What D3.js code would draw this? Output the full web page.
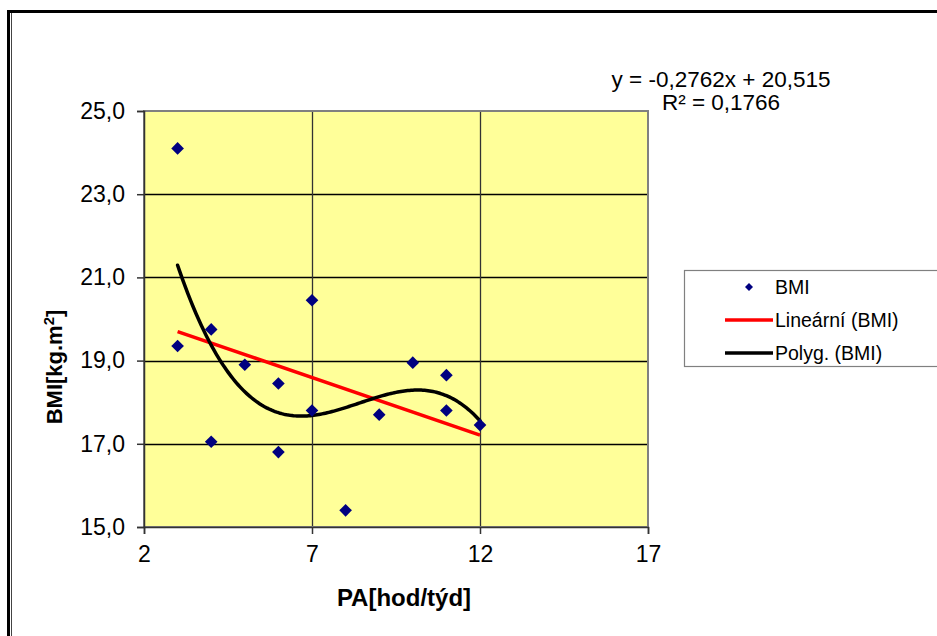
<!DOCTYPE html>
<html>
<head>
<meta charset="utf-8">
<script src="https://cdn.jsdelivr.net/npm/d3@7"></script>
<style>
  body { margin: 0; background: #fff; }
  svg { display: block; font-family: "Liberation Sans", Arial, sans-serif; }
</style>
</head>
<body>
<div id="chart"></div>
<script>
// PA [hod/týd] vs BMI
const paHours = [3, 3, 4, 4, 5, 6, 6, 7, 7, 8, 9, 10, 11, 11, 12];
const bmiValues = [24.1, 19.35, 19.75, 17.05, 18.9, 18.45, 16.8, 20.45, 17.8, 15.4, 17.7, 18.95, 18.65, 17.8, 17.45];
const xTicks = [2, 7, 12, 17];
const yTicks = [15, 17, 19, 21, 23, 25];
const legendLabels = ["BMI", "Lineární (BMI)", "Polyg. (BMI)"];
const equationLines = ["y = -0,2762x + 20,515", "R² = 0,1766"];

const width = 937, height = 636;
const plot = {left: 144, top: 111, right: 648, bottom: 527};

const svg = d3.select("#chart").append("svg")
    .attr("width", width)
    .attr("height", height);

// outer frame
svg.append("rect")
    .attr("x", 8.5).attr("y", 11.5)
    .attr("width", 960).attr("height", 660)
    .attr("fill", "none")
    .attr("stroke", "#000")
    .attr("stroke-width", 3);
svg.append("line")
    .attr("x1", 11.5).attr("x2", 11.5)
    .attr("y1", 13).attr("y2", height)
    .attr("stroke", "#444").attr("stroke-width", 1);

const x = d3.scaleLinear().domain([2, 17]).range([plot.left, plot.right]);
const y = d3.scaleLinear().domain([15, 25]).range([plot.bottom, plot.top]);
const fmt = d => d3.format(".1f")(d).replace(".", ",");

svg.append("rect")
    .attr("x", plot.left).attr("y", plot.top)
    .attr("width", plot.right - plot.left)
    .attr("height", plot.bottom - plot.top)
    .attr("fill", "#ffff99");

// gridlines
svg.append("g").selectAll("line")
    .data(yTicks.slice(1, -1))
    .enter().append("line")
    .attr("x1", plot.left).attr("x2", plot.right)
    .attr("y1", d => Math.round(y(d)) + 0.5)
    .attr("y2", d => Math.round(y(d)) + 0.5)
    .attr("stroke", "#000").attr("stroke-width", 1.3);
svg.append("g").selectAll("line")
    .data(xTicks.slice(1, -1))
    .enter().append("line")
    .attr("x1", d => Math.round(x(d)) + 0.5)
    .attr("x2", d => Math.round(x(d)) + 0.5)
    .attr("y1", plot.top).attr("y2", plot.bottom)
    .attr("stroke", "#333").attr("stroke-width", 1.3);

svg.append("rect")
    .attr("x", plot.left).attr("y", plot.top)
    .attr("width", plot.right - plot.left)
    .attr("height", plot.bottom - plot.top)
    .attr("fill", "none")
    .attr("stroke", "#808080")
    .attr("stroke-width", 2);

// axes
const yAxis = svg.append("g")
    .attr("transform", "translate(" + plot.left + ",0)")
    .call(d3.axisLeft(y).tickValues(yTicks).tickFormat(fmt).tickSize(7).tickPadding(12));
const xAxis = svg.append("g")
    .attr("transform", "translate(0," + plot.bottom + ")")
    .call(d3.axisBottom(x).tickValues(xTicks).tickSize(7).tickPadding(12));
[yAxis, xAxis].forEach(a => {
    a.select(".domain").attr("stroke", "#333").attr("stroke-width", 1.5);
    a.selectAll(".tick line").attr("stroke", "#333").attr("stroke-width", 1.5);
    a.selectAll("text")
        .attr("fill", "#000")
        .style("font-size", "23px")
        .style("font-family", "'Liberation Sans', Arial, sans-serif");
});

// axis titles
svg.append("text")
    .attr("x", 404).attr("y", 606)
    .attr("text-anchor", "middle")
    .style("font-size", "24px").style("font-weight", "bold")
    .text("PA[hod/týd]");

const yTitle = svg.append("text")
    .attr("transform", "translate(62,367) rotate(-90)")
    .attr("text-anchor", "middle")
    .style("font-size", "22px").style("font-weight", "bold");
yTitle.append("tspan").text("BMI[kg.m");
yTitle.append("tspan").attr("dy", -8).style("font-size", "15px").text("2");
yTitle.append("tspan").attr("dy", 8).text("]");

// trendlines (least squares fits of the data)
function polyFit(xs, ys, order) {
    const n = order + 1;
    const A = [];
    for (let i = 0; i < n; i++) {
        A.push([]);
        for (let j = 0; j < n; j++) A[i].push(d3.sum(xs, v => Math.pow(v, i + j)));
        A[i].push(d3.sum(xs, (v, k) => Math.pow(v, i) * ys[k]));
    }
    for (let c = 0; c < n; c++) {
        let p = c;
        for (let r = c + 1; r < n; r++) if (Math.abs(A[r][c]) > Math.abs(A[p][c])) p = r;
        [A[c], A[p]] = [A[p], A[c]];
        for (let r = 0; r < n; r++) {
            if (r === c) continue;
            const f = A[r][c] / A[c][c];
            for (let k = c; k <= n; k++) A[r][k] -= f * A[c][k];
        }
    }
    return A.map((row, i) => row[n] / row[i]);
}
const evalPoly = (co, v) => co.reduce((s, c, i) => s + c * Math.pow(v, i), 0);

const linCo = polyFit(paHours, bmiValues, 1);
const cubCo = polyFit(paHours, bmiValues, 3);
const xMin = d3.min(paHours), xMax = d3.max(paHours);
const curveX = d3.range(xMin, xMax + 0.001, 0.05);

const line = d3.line().x(d => x(d[0])).y(d => y(d[1]));

svg.append("path")
    .datum([[xMin, evalPoly(linCo, xMin)], [xMax, evalPoly(linCo, xMax)]])
    .attr("d", line)
    .attr("fill", "none")
    .attr("stroke", "#ff0000")
    .attr("stroke-width", 3.5);

svg.append("path")
    .datum(curveX.map(v => [v, evalPoly(cubCo, v)]))
    .attr("d", line)
    .attr("fill", "none")
    .attr("stroke", "#000")
    .attr("stroke-width", 3.5)
    .attr("stroke-linecap", "round");

// points
const diamond = d3.symbol().type(d3.symbolSquare).size(80);
svg.append("g").selectAll("path")
    .data(paHours.map((v, i) => [v, bmiValues[i]]))
    .enter().append("path")
    .attr("d", diamond)
    .attr("transform", d => "translate(" + x(d[0]) + "," + y(d[1]) + ") rotate(45)")
    .attr("fill", "#000080");

// equation
svg.append("g").selectAll("text")
    .data(equationLines)
    .enter().append("text")
    .attr("x", 721)
    .attr("y", (d, i) => 87 + i * 23)
    .attr("text-anchor", "middle")
    .style("font-size", "22.5px")
    .text(d => d);

// legend
const lg = svg.append("g");
lg.append("rect")
    .attr("x", 684.5).attr("y", 270.5)
    .attr("width", 300).attr("height", 96)
    .attr("fill", "#fff")
    .attr("stroke", "#808080").attr("stroke-width", 1.2);
const rows = [287, 320, 353];
lg.append("path")
    .attr("d", d3.symbol().type(d3.symbolSquare).size(32))
    .attr("transform", "translate(749," + rows[0] + ") rotate(45)")
    .attr("fill", "#000080");
lg.append("line")
    .attr("x1", 725).attr("x2", 773)
    .attr("y1", rows[1]).attr("y2", rows[1])
    .attr("stroke", "#ff0000").attr("stroke-width", 3.5);
lg.append("line")
    .attr("x1", 725).attr("x2", 773)
    .attr("y1", rows[2]).attr("y2", rows[2])
    .attr("stroke", "#000").attr("stroke-width", 3.5);
lg.selectAll("text")
    .data(legendLabels)
    .enter().append("text")
    .attr("x", 775)
    .attr("y", (d, i) => rows[i])
    .attr("dy", "0.35em")
    .style("font-size", "19.5px")
    .text(d => d);
</script>
</body>
</html>
